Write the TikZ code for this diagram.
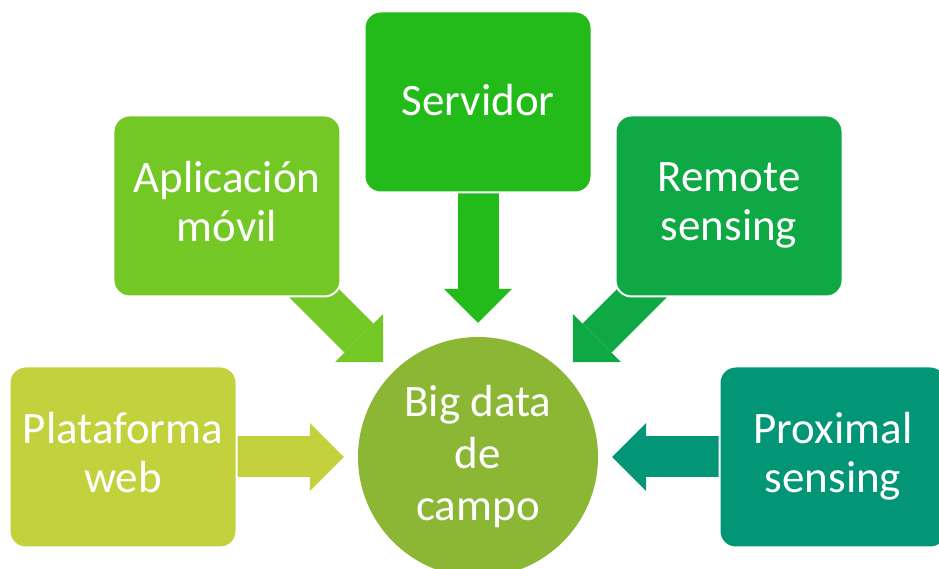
\documentclass[tikz,border=0pt]{standalone}
\usepackage{fontspec}
\setmainfont{Carlito}
\usetikzlibrary{arrows.meta,backgrounds}
\definecolor{webgreen}{HTML}{C2D13C}
\definecolor{appgreen}{HTML}{74C826}
\definecolor{servgreen}{HTML}{22BB19}
\definecolor{remgreen}{HTML}{0EA845}
\definecolor{proxgreen}{HTML}{029677}
\definecolor{hubgreen}{HTML}{8BB735}
\newcommand{\topstrut}{\rule{0pt}{36pt}}
\newcommand{\botstrut}{\rule[-9pt]{0pt}{9pt}}
\begin{document}
\begin{tikzpicture}[
x=1pt, y=1pt,
mybox/.style={
  draw=white,
  line width=2pt,
  rounded corners=16pt,
  minimum width=227pt,
  minimum height=181pt,
  align=center,
  text=white,
  font=\fontsize{45}{49}\selectfont,
  execute at begin node=\topstrut,
  execute at end node=\botstrut
  },
myhub/.style={
  circle,
  fill=hubgreen,
  minimum size=240pt,
  inner sep=0pt,
  align=center,
  text=white,
  font=\fontsize{45}{52}\selectfont,
  execute at begin node=\topstrut,
  execute at end node=\botstrut
  },
blockarrow/.style={
  line width=41pt,
  -{Triangle[length=34pt,width=68pt,line width=0pt]},
  shorten >=14pt,
  shorten <=-40pt
  }
]
\useasboundingbox (0,0) rectangle (939,569);
\node[myhub] (big) at (478,112) {Big data\\de\\campo};
\foreach \Angle/\Name/\Col/\Text in {
  180/web/webgreen/{Plataforma\\web},
  135/app/appgreen/{Aplicación\\móvil},
  90/serv/servgreen/{Servidor},
  45/remote/remgreen/{Remote\\sensing},
  0/prox/proxgreen/{Proximal\\sensing}}
{
  \path (big) ++(\Angle:355) node[mybox,fill=\Col] (\Name) {\Text};
  \begin{scope}[on background layer]
    \draw[blockarrow,\Col] (\Name) -- (big);
  \end{scope}
}
\end{tikzpicture}
\end{document}
